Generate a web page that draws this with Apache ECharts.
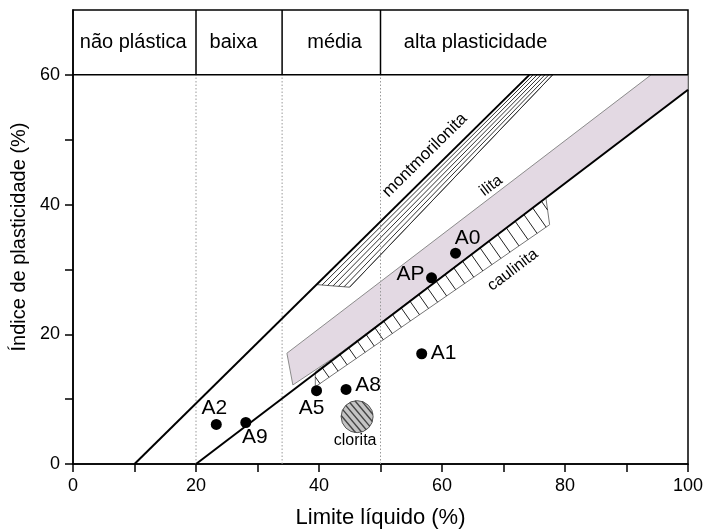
<!DOCTYPE html>
<html><head><meta charset="utf-8">
<script src="https://cdn.jsdelivr.net/npm/echarts@6/dist/echarts.min.js"></script>
<style>html,body{margin:0;padding:0;background:#fff}#c{width:706px;height:531px}</style>
</head><body><div id="c"></div>
<script>
// ---- axis ticks / labels ----
const xTickValues = [0,10,20,30,40,50,60,70,80,90,100];
const xLabelValues = [0,20,40,60,80,100];
const yTickValues = [0,10,20,30,40,50,60];
const yLabelValues = [0,20,40,60];

// ---- plasticity classes (liquid-limit boundaries) ----
const classBounds = [20,34,50];
const classNames = ['não plástica','baixa','média','alta plasticidade'];
const classLabelX = [1.1,22.2,38.1,53.8];
const classLabelY = 65;
const bandTop = 70;
const bandBottom = 60;

// ---- reference lines ----
const upperLine = [[10,0],[74.2,60]];
const aLine = [[20,0],[100,57.7]];

// ---- mineral zones ----
const montmorilonita = [[39.6,27.66],[44.97,27.26],[78.0,60],[74.2,60]];
const ilita = [[34.78,17.08],[35.75,12.19],[45,18.03],[100,57.7],[100,60],[94.0,60]];
const caulinita = [[39.4,14.2],[76.9,41.0],[77.5,36.9],[39.4,11.9]];
const clorita = [46.2,7.3];
const zoneLabels = ['montmorilonita','ilita','caulinita','clorita'];
const zoneLabelPos = [[57.2,47.6],[68.0,42.9],[71.5,29.9]];

// ---- samples ----
const sampleNames = ['A0','AP','A1','A8','A5','A2','A9'];
const sampleLL = [62.2,58.3,56.7,44.4,39.6,23.3,28.1];
const samplePI = [32.5,28.7,17.0,11.5,11.3,6.1,6.4];

const FONT = 'Liberation Sans, Arial, sans-serif';
const labelOffset = {A0:[12,-15],AP:[-21,-4],A1:[22,-1],A8:[22,-4],A5:[-5,17],A2:[-2,-16],A9:[9,15]};

function hatch(poly, angleDeg, spacing){
  const a = angleDeg*Math.PI/180, d=[Math.cos(a),Math.sin(a)], n=[-d[1],d[0]];
  const proj = p => p[0]*n[0]+p[1]*n[1];
  const cs = poly.map(proj);
  const cmin = Math.min(...cs), cmax = Math.max(...cs);
  const segs = [];
  for (let c = cmin+spacing/2; c < cmax; c += spacing){
    const hits = [];
    for (let i=0;i<poly.length;i++){
      const A=poly[i], B=poly[(i+1)%poly.length];
      const fa=proj(A)-c, fb=proj(B)-c;
      if ((fa<0&&fb>=0)||(fa>=0&&fb<0)){
        const t=fa/(fa-fb);
        hits.push([A[0]+(B[0]-A[0])*t, A[1]+(B[1]-A[1])*t]);
      }
    }
    hits.sort((p,q)=>(p[0]*d[0]+p[1]*d[1])-(q[0]*d[0]+q[1]*d[1]));
    for (let k=0;k+1<hits.length;k+=2) segs.push([hits[k],hits[k+1]]);
  }
  return segs;
}

function renderZones(params, api){
  const P = pts => pts.map(p => api.coord(p));
  const ch = [];
  const seg = (a,b,style) => ch.push({type:'line', shape:{x1:a[0],y1:a[1],x2:b[0],y2:b[1]}, style});
  // ilita
  ch.push({type:'polygon', shape:{points:P(ilita)}, style:{fill:'#e3d9e3', stroke:'#8c8c8c', lineWidth:1}});
  // caulinita
  const kp = P(caulinita);
  ch.push({type:'polygon', shape:{points:kp}, style:{fill:'#fff', stroke:'#777', lineWidth:1}});
  hatch(kp, 55, 11).forEach(s => seg(s[0], s[1], {stroke:'#222', lineWidth:1}));
  // montmorilonita
  const mp = P(montmorilonita);
  ch.push({type:'polygon', shape:{points:mp}, style:{fill:'#fff', stroke:'#666', lineWidth:1}});
  const N = 6;
  for (let k=1;k<=N;k++){
    const t=k/N;
    const b=[mp[0][0]+(mp[1][0]-mp[0][0])*t, mp[0][1]+(mp[1][1]-mp[0][1])*t];
    const u=[mp[3][0]+(mp[2][0]-mp[3][0])*t, mp[3][1]+(mp[2][1]-mp[3][1])*t];
    seg(b,u,{stroke:'#333', lineWidth:1});
  }
  // clorita
  const c = api.coord(clorita), r = 16;
  ch.push({type:'circle', shape:{cx:c[0],cy:c[1],r}, style:{fill:'#c4c4c4', stroke:'#555', lineWidth:1}});
  {
    const a=50*Math.PI/180, d=[Math.cos(a),Math.sin(a)], n=[-d[1],d[0]];
    for (let off=-r+2.5; off<r; off+=5){
      const h=Math.sqrt(r*r-off*off);
      const m=[c[0]+n[0]*off, c[1]+n[1]*off];
      seg([m[0]-d[0]*h, m[1]-d[1]*h],[m[0]+d[0]*h, m[1]+d[1]*h],{stroke:'#444', lineWidth:1.4});
    }
  }
  ch.push({type:'text', x:c[0]-2, y:c[1]+24, style:{text:zoneLabels[3], font:'16px '+FONT, fill:'#000', align:'center', verticalAlign:'middle'}});
  // zone labels (rotated)
  const rots = [44.6, 37.3, 37.3];
  const sizes = [17, 16, 16];
  for (let i=0;i<3;i++){
    const p = api.coord(zoneLabelPos[i]);
    ch.push({type:'text', x:p[0], y:p[1], rotation:rots[i]*Math.PI/180,
      style:{text:zoneLabels[i], font:sizes[i]+'px '+FONT, fill:'#000', align:'center', verticalAlign:'middle'}});
  }
  // class boundaries
  classBounds.forEach(v => {
    seg(api.coord([v,0]), api.coord([v,bandBottom]), {stroke:'#999', lineWidth:1, lineDash:[1.5,2]});
    seg(api.coord([v,bandBottom]), api.coord([v,bandTop]), {stroke:'#000', lineWidth:1.5});
  });
  seg(api.coord([0,bandBottom]), api.coord([100,bandBottom]), {stroke:'#000', lineWidth:1.5});
  classNames.forEach((t,i) => {
    const p = api.coord([classLabelX[i], classLabelY]);
    ch.push({type:'text', x:p[0], y:p[1], style:{text:t, font:'20px '+FONT, fill:'#000', align:'left', verticalAlign:'middle'}});
  });
  return {type:'group', children:ch};
}

const chart = echarts.init(document.getElementById('c'), null, {renderer:'canvas'});
chart.setOption({
  animation:false,
  backgroundColor:'#fff',
  textStyle:{fontFamily:FONT},
  grid:{left:73, right:18, top:10, bottom:67, show:true, borderColor:'#000', borderWidth:1.5,
    backgroundColor:'transparent', containLabel:false, outerBoundsMode:'none'},
  xAxis:{type:'value', min:0, max:100, interval:10,
    name:'Limite líquido (%)', nameLocation:'middle', nameGap:43,
    nameTextStyle:{fontSize:22, color:'#000', fontFamily:FONT},
    axisLine:{show:true, onZero:false, lineStyle:{color:'#000', width:1.5}},
    axisTick:{show:true, length:8, customValues:xTickValues, lineStyle:{color:'#000', width:1.5}},
    axisLabel:{customValues:xLabelValues, fontSize:18, color:'#000', margin:13, fontFamily:FONT},
    splitLine:{show:false}},
  yAxis:{type:'value', min:0, max:bandTop, interval:10,
    name:'Índice de plasticidade (%)', nameLocation:'middle', nameGap:40,
    nameTextStyle:{fontSize:20, color:'#000', fontFamily:FONT},
    axisLine:{show:true, onZero:false, lineStyle:{color:'#000', width:1.5}},
    axisTick:{show:true, length:8, customValues:yTickValues, lineStyle:{color:'#000', width:1.5}},
    axisLabel:{customValues:yLabelValues, fontSize:18, color:'#000', margin:13, fontFamily:FONT},
    splitLine:{show:false}},
  series:[
    {type:'custom', coordinateSystem:'cartesian2d', data:[[0,0]], renderItem:renderZones, silent:true, z:1, clip:false},
    {type:'line', data:upperLine, showSymbol:false, symbol:'none', lineStyle:{color:'#000', width:2}, z:3, silent:true},
    {type:'line', data:aLine, showSymbol:false, symbol:'none', lineStyle:{color:'#000', width:2}, z:3, silent:true},
    {type:'scatter', symbol:'circle', symbolSize:11, itemStyle:{color:'#000', opacity:1}, z:5,
      emphasis:{disabled:true},
      data: sampleNames.map((n,i)=>({name:n, value:[sampleLL[i], samplePI[i]],
        label:{show:true, position:'inside', offset:labelOffset[n], formatter:n,
          fontSize:21, color:'#000', fontFamily:FONT, align:'center', verticalAlign:'middle', opacity:1}}))}
  ]
});
</script>
</body></html>
